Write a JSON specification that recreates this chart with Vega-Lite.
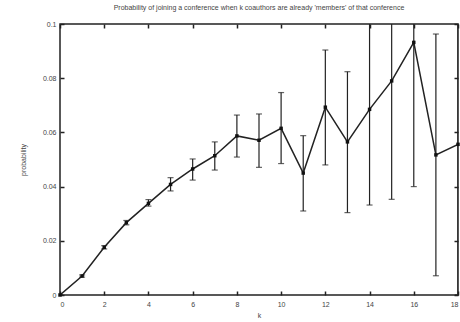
{
  "$schema": "https://vega.github.io/schema/vega-lite/v6.json",
  "autosize": "none",
  "width": 398,
  "height": 271,
  "padding": {"left": 60, "top": 24, "right": 2, "bottom": 27},
  "background": "white",
  "title": {
    "text": "Probability of joining a conference when k coauthors are already 'members' of that conference",
    "fontSize": 7, "font": "Liberation Sans", "fontWeight": "normal", "color": "#444",
    "offset": 9, "anchor": "middle"
  },
  "config": {
    "view": {"stroke": "#222", "strokeWidth": 1.5},
    "axis": {
      "labelFont": "Liberation Sans", "labelFontSize": 7, "labelColor": "#444",
      "titleFont": "Liberation Sans", "titleFontSize": 7, "titleColor": "#444", "titleFontWeight": "normal",
      "domain": false, "grid": false, "ticks": true, "tickColor": "#222", "tickWidth": 1.5, "tickSize": 4, "offset": -4, "zindex": 1
    }
  },
  "data": {
    "values": [
      {"k": 0, "p": 0.0, "lo": 0.0, "hi": 0.0},
      {"k": 1, "p": 0.0070, "lo": 0.0066, "hi": 0.0074},
      {"k": 2, "p": 0.0176, "lo": 0.0170, "hi": 0.0182},
      {"k": 3, "p": 0.0267, "lo": 0.0259, "hi": 0.0275},
      {"k": 4, "p": 0.0338, "lo": 0.0328, "hi": 0.0352},
      {"k": 5, "p": 0.0408, "lo": 0.0384, "hi": 0.0433},
      {"k": 6, "p": 0.0465, "lo": 0.0424, "hi": 0.0502},
      {"k": 7, "p": 0.0514, "lo": 0.0461, "hi": 0.0565},
      {"k": 8, "p": 0.0587, "lo": 0.0509, "hi": 0.0664},
      {"k": 9, "p": 0.0571, "lo": 0.0471, "hi": 0.0668},
      {"k": 10, "p": 0.0615, "lo": 0.0485, "hi": 0.0747},
      {"k": 11, "p": 0.0450, "lo": 0.0310, "hi": 0.0588},
      {"k": 12, "p": 0.0693, "lo": 0.0480, "hi": 0.0904},
      {"k": 13, "p": 0.0565, "lo": 0.0304, "hi": 0.0824},
      {"k": 14, "p": 0.0685, "lo": 0.0332, "hi": 0.104},
      {"k": 15, "p": 0.0790, "lo": 0.0353, "hi": 0.122},
      {"k": 16, "p": 0.0932, "lo": 0.0400, "hi": 0.146},
      {"k": 17, "p": 0.0517, "lo": 0.0071, "hi": 0.0963},
      {"k": 18, "p": 0.0556, "lo": 0.0, "hi": 0.13}
    ]
  },
  "layer": [
    {
      "mark": {"type": "rule", "clip": true, "color": "#222", "strokeWidth": 1.2},
      "encoding": {
        "x": {"field": "k", "type": "quantitative", "scale": {"domain": [0, 18], "nice": false},
              "axis": {"orient": "top", "labels": false, "title": null, "values": [0,2,4,6,8,10,12,14,16,18]}},
        "y": {"field": "lo", "type": "quantitative", "scale": {"domain": [0, 0.1], "nice": false},
              "axis": {"orient": "right", "labels": false, "title": null, "values": [0,0.02,0.04,0.06,0.08,0.1]}},
        "y2": {"field": "hi"}
      }
    },
    {
      "mark": {"type": "tick", "clip": true, "orient": "horizontal", "color": "#222", "size": 6, "thickness": 1.2},
      "encoding": {
        "x": {"field": "k", "type": "quantitative", "axis": null},
        "y": {"field": "lo", "type": "quantitative", "axis": null}
      }
    },
    {
      "mark": {"type": "tick", "clip": true, "orient": "horizontal", "color": "#222", "size": 6, "thickness": 1.2},
      "encoding": {
        "x": {"field": "k", "type": "quantitative", "axis": null},
        "y": {"field": "hi", "type": "quantitative", "axis": null}
      }
    },
    {
      "mark": {"type": "line", "clip": true, "color": "#222", "strokeWidth": 1.5},
      "encoding": {
        "x": {"field": "k", "type": "quantitative",
              "axis": {"orient": "bottom", "title": "k", "values": [0,2,4,6,8,10,12,14,16,18], "format": "d", "labelPadding": 5, "titlePadding": 4}},
        "y": {"field": "p", "type": "quantitative",
              "axis": {"orient": "left", "title": "probability", "values": [0,0.02,0.04,0.06,0.08,0.1], "format": "~g", "labelPadding": 4, "titlePadding": 16}}
      }
    },
    {
      "mark": {"type": "square", "filled": true, "color": "#111", "size": 12, "opacity": 1},
      "encoding": {
        "x": {"field": "k", "type": "quantitative", "axis": null},
        "y": {"field": "p", "type": "quantitative", "axis": null}
      }
    }
  ],
  "resolve": {"axis": {"x": "independent", "y": "independent"}}
}
